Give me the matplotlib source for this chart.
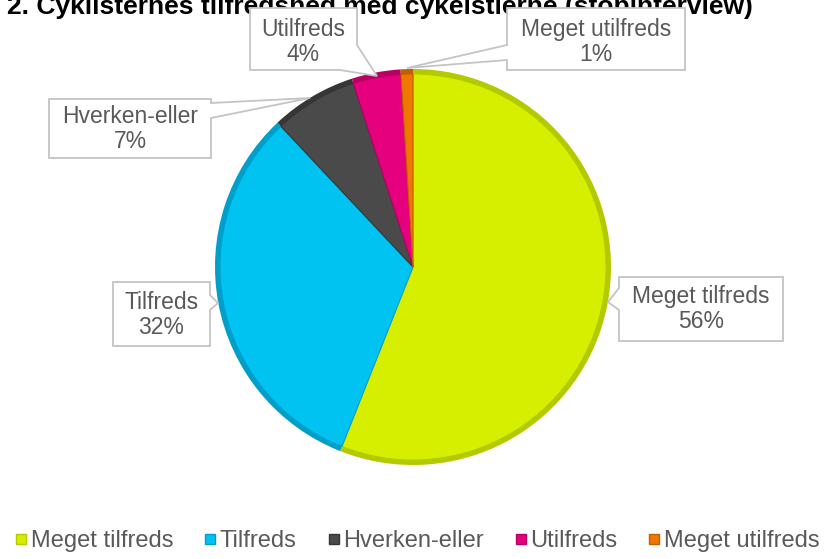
import matplotlib
matplotlib.use("Agg")
import matplotlib.pyplot as plt
from matplotlib.patches import Polygon
from matplotlib.lines import Line2D

categories = ["Meget tilfreds", "Tilfreds", "Hverken-eller", "Utilfreds", "Meget utilfreds"]
values = [56, 32, 7, 4, 1]
pct_labels = ["56%", "32%", "7%", "4%", "1%"]
title = "2. Cyklisternes tilfredshed med cykelstierne (stopinterview)"

colors = ["#D6EF00", "#00C3F2", "#4A4A4A", "#E5007D", "#EE7700"]
rim_colors = ["#B4CA00", "#009FCA", "#363636", "#B80064", "#C45F00"]

W, H = 825, 559
fig = plt.figure(figsize=(W / 100, H / 100), dpi=100)
ax = fig.add_axes([0, 0, 1, 1])

def Y(y):
    return H - y

cx, cy, r = 413, 267, 198

# base (rim) pie
ax.pie(values, colors=rim_colors, startangle=90, counterclock=False,
       center=(cx, Y(cy)), radius=r, frame=True,
       wedgeprops=dict(linewidth=0))
# inner lighter pie
ax.pie(values, colors=colors, startangle=90, counterclock=False,
       center=(cx, Y(cy)), radius=r * 0.975, frame=True,
       wedgeprops=dict(linewidth=0.8))
for w, rc in zip(ax.patches[len(values):], rim_colors):
    w.set_edgecolor(rc)
ax.set_xlim(0, W)
ax.set_ylim(0, H)
ax.set_aspect("equal")
ax.axis("off")

# callouts: polygon (top-origin pixel coords), text centre
callouts = [
    ([(619, 277), (783, 277), (783, 341), (619, 341), (619, 310), (608, 302), (619, 288)], (701, 309)),
    ([(113, 282), (210, 282), (210, 295), (218, 303), (210, 310), (210, 346), (113, 346)], (161.5, 315)),
    ([(49, 99), (211, 99), (211, 103), (310, 98), (211, 118), (211, 158), (49, 158)], (130, 129)),
    ([(250, 8), (357, 8), (357, 45), (377, 76), (340, 70), (250, 70)], (303.5, 42)),
    ([(507, 8), (685, 8), (685, 70), (507, 70), (507, 60), (407, 68), (507, 45)], (596, 42)),
]
for (pts, (tx, ty)), cat, pl in zip(callouts, categories, pct_labels):
    poly = Polygon([(x, Y(y)) for x, y in pts], closed=True, facecolor="white",
                   edgecolor="#C4C4C4", linewidth=1.3, zorder=5)
    ax.add_patch(poly)
    ax.text(tx, Y(ty), f"{cat}\n{pl}", ha="center", va="center", fontsize=16.5,
            color="#595959", family="Liberation Sans", linespacing=1.1, zorder=6)

# title (clipped at top like the reference)
ax.text(380, Y(14), title, ha="center", va="baseline", fontsize=19,
        fontweight="bold", family="Liberation Sans", color="black")

handles = [Line2D([], [], marker="s", linestyle="none", markersize=7.5,
                  markerfacecolor=c, markeredgecolor=rc, markeredgewidth=1)
           for c, rc in zip(colors, rim_colors)]
leg = fig.legend(handles, categories, loc="center", bbox_to_anchor=(417 / W, (H - 541) / H),
                 ncol=5, frameon=False, handlelength=0.55, handletextpad=0.12,
                 columnspacing=1.3, borderaxespad=0,
                 prop=dict(family="Liberation Sans", size=17))
for t in leg.get_texts():
    t.set_color("#595959")

fig.savefig("out.png", dpi=100)
